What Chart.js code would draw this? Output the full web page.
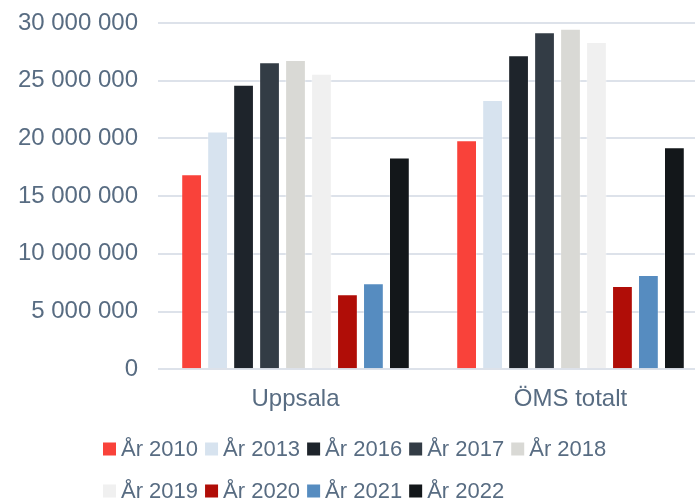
<!DOCTYPE html>
<html>
<head>
<meta charset="utf-8">
<script src="https://cdn.jsdelivr.net/npm/chart.js@4.4.1/dist/chart.umd.min.js"></script>
<style>
    html, body { margin: 0; padding: 0; background: #fff; overflow: hidden; }
    #wrap { width: 708px; height: 502px; }
</style>
</head>
<body>
<div id="wrap"><canvas id="chart"></canvas></div>
<script>
        // --- Data ---
        const categories = ['Uppsala', 'ÖMS totalt'];
        const seriesLabels = ['År 2010', 'År 2013', 'År 2016', 'År 2017', 'År 2018', 'År 2019', 'År 2020', 'År 2021', 'År 2022'];
        const seriesValues = [
            [16900000, 19850000],
            [20600000, 23330000],
            [24650000, 27200000],
            [26600000, 29200000],
            [26800000, 29500000],
            [25600000, 28350000],
            [6500000, 7200000],
            [7450000, 8170000],
            [18350000, 19230000]
        ];
        const seriesColors = ['#f9423a', '#d7e3ef', '#1e242b', '#333c45', '#d9d9d5', '#f0f0f0', '#b00d07', '#568cc0', '#13171a'];
        const yTicks = [0, 5000000, 10000000, 15000000, 20000000, 25000000, 30000000];

        const textColor = '#586c82';
        const fontFamily = '"Liberation Sans", Arial, sans-serif';

        // "30000000" -> "30 000 000"
        const formatNumber = (v) => String(v).replace(/\B(?=(\d{3})+(?!\d))/g, ' ');

        // Legend drawn by hand so the spacing matches the original
        const legendPlugin = {
            id: 'customLegend',
            afterDraw(chart) {
                const ctx = chart.ctx;
                ctx.save();
                ctx.font = '22px ' + fontFamily;
                ctx.textBaseline = 'middle';
                let x = 103, y = 449;
                chart.data.datasets.forEach(ds => {
                    const w = 13 + 5 + ctx.measureText(ds.label).width;
                    if (x + w > 612) { x = 103; y += 42; }
                    ctx.fillStyle = ds.backgroundColor;
                    ctx.fillRect(x, y - 6.5, 13, 13);
                    ctx.fillStyle = textColor;
                    ctx.fillText(ds.label, x + 18, y + 1);
                    x += w + 7;
                });
                ctx.restore();
            }
        };

        new Chart(document.getElementById('chart'), {
            type: 'bar',
            data: {
                labels: categories,
                datasets: seriesLabels.map((label, i) => ({
                    label: label,
                    data: seriesValues[i],
                    backgroundColor: seriesColors[i],
                    borderColor: 'rgba(255, 255, 255, 0.3)',
                    borderWidth: 1,
                    barPercentage: 0.8,
                    categoryPercentage: 0.85
                }))
            },
            options: {
                responsive: true,
                maintainAspectRatio: false,
                animation: false,
                layout: { padding: { left: 17, top: 23, right: 0, bottom: 80 } },
                scales: {
                    y: {
                        min: 0,
                        max: 30000000,
                        afterBuildTicks: (axis) => { axis.ticks = yTicks.map(v => ({ value: v })); },
                        afterFit: (axis) => {
                            axis.width = 141;
                            axis.paddingTop = 0;
                            axis.paddingBottom = 0;
                        },
                        ticks: {
                            color: textColor,
                            font: { family: fontFamily, size: 24 },
                            padding: 20,
                            callback: (v) => formatNumber(v)
                        },
                        grid: { color: '#dde2ea', lineWidth: 2, drawTicks: false },
                        border: { display: false }
                    },
                    x: {
                        ticks: {
                            color: textColor,
                            font: { family: fontFamily, size: 24 },
                            padding: 8
                        },
                        grid: { display: false },
                        border: { display: false }
                    }
                },
                plugins: {
                    legend: { display: false },
                    tooltip: { enabled: false }
                }
            },
            plugins: [legendPlugin]
        });
</script>
</body>
</html>
